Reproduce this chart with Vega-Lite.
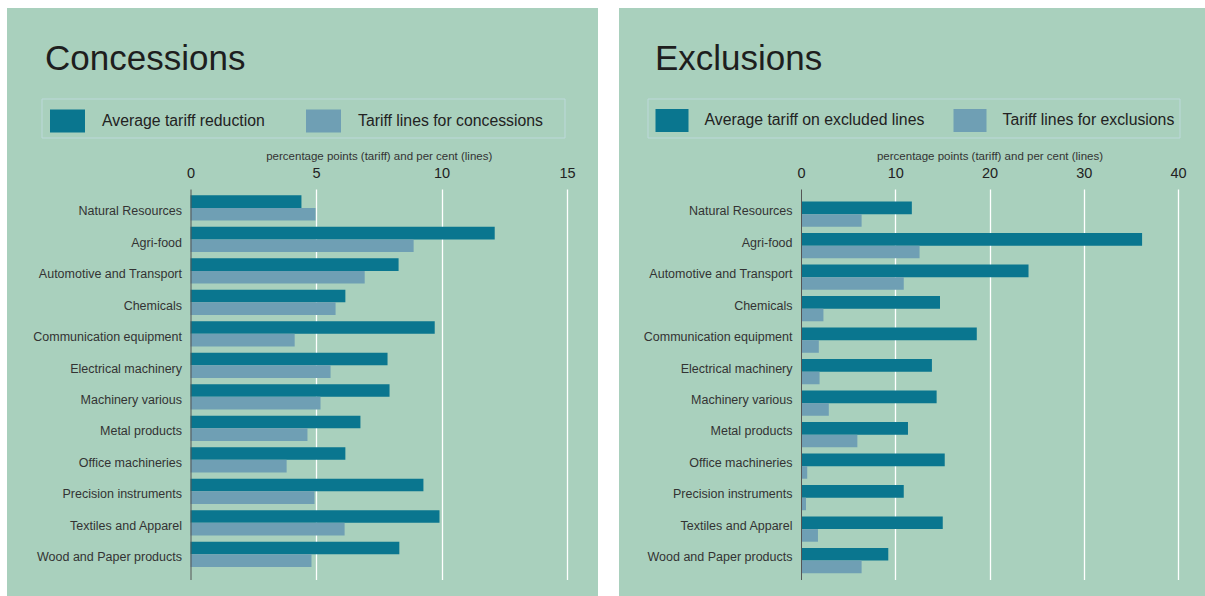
{
  "$schema": "https://vega.github.io/schema/vega-lite/v6.json",
  "background": "white",
  "padding": {"left": 7, "top": 8, "right": 0, "bottom": 0},
  "spacing": 21,
  "bounds": "flush",
  "config": {
    "font": "Liberation Sans",
    "view": {"fill": "#a9d0bd", "stroke": null},
    "axis": {"labelFont": "Liberation Sans", "titleFont": "Liberation Sans"},
    "legend": {"labelFont": "Liberation Sans", "titleFont": "Liberation Sans"}
  },
  "datasets": {
    "concessions": [
      {"sector": "Natural Resources", "series": "Average tariff reduction", "value": 4.42},
      {"sector": "Natural Resources", "series": "Tariff lines for concessions", "value": 4.98},
      {"sector": "Agri-food", "series": "Average tariff reduction", "value": 12.12},
      {"sector": "Agri-food", "series": "Tariff lines for concessions", "value": 8.89},
      {"sector": "Automotive and Transport", "series": "Average tariff reduction", "value": 8.29},
      {"sector": "Automotive and Transport", "series": "Tariff lines for concessions", "value": 6.94},
      {"sector": "Chemicals", "series": "Average tariff reduction", "value": 6.17},
      {"sector": "Chemicals", "series": "Tariff lines for concessions", "value": 5.78},
      {"sector": "Communication equipment", "series": "Average tariff reduction", "value": 9.73},
      {"sector": "Communication equipment", "series": "Tariff lines for concessions", "value": 4.15},
      {"sector": "Electrical machinery", "series": "Average tariff reduction", "value": 7.85},
      {"sector": "Electrical machinery", "series": "Tariff lines for concessions", "value": 5.58},
      {"sector": "Machinery various", "series": "Average tariff reduction", "value": 7.93},
      {"sector": "Machinery various", "series": "Tariff lines for concessions", "value": 5.18},
      {"sector": "Metal products", "series": "Average tariff reduction", "value": 6.77},
      {"sector": "Metal products", "series": "Tariff lines for concessions", "value": 4.66},
      {"sector": "Office machineries", "series": "Average tariff reduction", "value": 6.17},
      {"sector": "Office machineries", "series": "Tariff lines for concessions", "value": 3.83},
      {"sector": "Precision instruments", "series": "Average tariff reduction", "value": 9.28},
      {"sector": "Precision instruments", "series": "Tariff lines for concessions", "value": 4.94},
      {"sector": "Textiles and Apparel", "series": "Average tariff reduction", "value": 9.92},
      {"sector": "Textiles and Apparel", "series": "Tariff lines for concessions", "value": 6.14},
      {"sector": "Wood and Paper products", "series": "Average tariff reduction", "value": 8.32},
      {"sector": "Wood and Paper products", "series": "Tariff lines for concessions", "value": 4.82}
    ],
    "exclusions": [
      {"sector": "Natural Resources", "series": "Average tariff on excluded lines", "value": 11.76},
      {"sector": "Natural Resources", "series": "Tariff lines for exclusions", "value": 6.43},
      {"sector": "Agri-food", "series": "Average tariff on excluded lines", "value": 36.19},
      {"sector": "Agri-food", "series": "Tariff lines for exclusions", "value": 12.58},
      {"sector": "Automotive and Transport", "series": "Average tariff on excluded lines", "value": 24.14},
      {"sector": "Automotive and Transport", "series": "Tariff lines for exclusions", "value": 10.9},
      {"sector": "Chemicals", "series": "Average tariff on excluded lines", "value": 14.75},
      {"sector": "Chemicals", "series": "Tariff lines for exclusions", "value": 2.38},
      {"sector": "Communication equipment", "series": "Average tariff on excluded lines", "value": 18.65},
      {"sector": "Communication equipment", "series": "Tariff lines for exclusions", "value": 1.89},
      {"sector": "Electrical machinery", "series": "Average tariff on excluded lines", "value": 13.89},
      {"sector": "Electrical machinery", "series": "Tariff lines for exclusions", "value": 1.97},
      {"sector": "Machinery various", "series": "Average tariff on excluded lines", "value": 14.39},
      {"sector": "Machinery various", "series": "Tariff lines for exclusions", "value": 2.95},
      {"sector": "Metal products", "series": "Average tariff on excluded lines", "value": 11.35},
      {"sector": "Metal products", "series": "Tariff lines for exclusions", "value": 5.98},
      {"sector": "Office machineries", "series": "Average tariff on excluded lines", "value": 15.25},
      {"sector": "Office machineries", "series": "Tariff lines for exclusions", "value": 0.66},
      {"sector": "Precision instruments", "series": "Average tariff on excluded lines", "value": 10.9},
      {"sector": "Precision instruments", "series": "Tariff lines for exclusions", "value": 0.53},
      {"sector": "Textiles and Apparel", "series": "Average tariff on excluded lines", "value": 15.04},
      {"sector": "Textiles and Apparel", "series": "Tariff lines for exclusions", "value": 1.8},
      {"sector": "Wood and Paper products", "series": "Average tariff on excluded lines", "value": 9.26},
      {"sector": "Wood and Paper products", "series": "Tariff lines for exclusions", "value": 6.43}
    ]
  },
  "hconcat": [
    {
      "width": 591,
      "height": 588,
      "data": {"name": "concessions"},
      "title": {"text": "Concessions", "anchor": "start", "frame": "group", "orient": "top", "offset": 0, "fontSize": 35, "fontWeight": "normal", "color": "#1e1e1e", "baseline": "alphabetic", "dx": 38, "dy": 97},
      "mark": {"type": "bar", "size": 12.6},
      "encoding": {
        "x": {
          "field": "value", "type": "quantitative",
          "scale": {"domain": [0, 15], "range": [183.5, 560], "nice": false},
          "axis": {
            "orient": "top", "offset": -180, "values": [0, 5, 10, 15], "labelFlush": false,
            "title": "percentage points (tariff) and per cent (lines)",
            "titleFontSize": 11.5, "titleFontWeight": "normal", "titleColor": "#333333", "titlePadding": 4,
            "labelFontSize": 14.5, "labelColor": "#222222", "labelPadding": 8,
            "ticks": false, "tickSize": 0, "domain": false,
            "grid": true, "gridColor": {"condition": {"test": "datum.value === 0", "value": "transparent"}, "value": "#ffffff"}, "gridWidth": 1.3, "gridOpacity": 1
          }
        },
        "y": {
          "field": "sector", "type": "nominal", "sort": null,
          "scale": {"range": [181, 571.5], "paddingInner": 0.2, "paddingOuter": 0.3},
          "axis": {
            "orient": "left", "offset": -183.5, "title": null,
            "labelFontSize": 12.5, "labelColor": "#333333", "labelPadding": 9, "labelLimit": 300,
            "ticks": false, "domain": true, "domainColor": "#555555", "domainWidth": 1, "grid": false, "zindex": 1
          }
        },
        "yOffset": {"field": "series", "type": "nominal", "sort": ["Average tariff reduction", "Tariff lines for concessions"], "scale": {"range": [0, 25.2], "paddingInner": 0, "paddingOuter": 0}},
        "color": {
          "field": "series", "type": "nominal",
          "scale": {"domain": ["Average tariff reduction", "Tariff lines for concessions"], "range": ["#0a768f", "#6f9fb4"]},
          "legend": {
            "orient": "none", "legendX": 34.5, "legendY": 90.5, "direction": "horizontal",
            "title": "\u00a0", "titleOrient": "right", "titlePadding": 17, "titleFontSize": 15.8, "titleFontWeight": "normal",
            "symbolType": "M-1,-0.657H1V0.657H-1Z", "symbolSize": 1225, "symbolStrokeWidth": 0, "symbolOpacity": 1, "symbolOffset": 3.5,
            "labelFontSize": 15.8, "labelColor": "#222222", "labelOffset": 17, "labelLimit": 400,
            "columnPadding": 37, "padding": 5, "strokeColor": "#bcd9da", "cornerRadius": 0
          }
        }
      }
    },
    {
      "width": 586,
      "height": 588,
      "data": {"name": "exclusions"},
      "title": {"text": "Exclusions", "anchor": "start", "frame": "group", "orient": "top", "offset": 0, "fontSize": 35, "fontWeight": "normal", "color": "#1e1e1e", "baseline": "alphabetic", "dx": 36, "dy": 97},
      "mark": {"type": "bar", "size": 12.6},
      "encoding": {
        "x": {
          "field": "value", "type": "quantitative",
          "scale": {"domain": [0, 40], "range": [182, 559], "nice": false},
          "axis": {
            "orient": "top", "offset": -180, "values": [0, 10, 20, 30, 40], "labelFlush": false,
            "title": "percentage points (tariff) and per cent (lines)",
            "titleFontSize": 11.5, "titleFontWeight": "normal", "titleColor": "#333333", "titlePadding": 4,
            "labelFontSize": 14.5, "labelColor": "#222222", "labelPadding": 8,
            "ticks": false, "tickSize": 0, "domain": false,
            "grid": true, "gridColor": {"condition": {"test": "datum.value === 0", "value": "transparent"}, "value": "#ffffff"}, "gridWidth": 1.3, "gridOpacity": 1
          }
        },
        "y": {
          "field": "sector", "type": "nominal", "sort": null,
          "scale": {"range": [181, 571.5], "paddingInner": 0.2, "paddingOuter": 0.3},
          "axis": {
            "orient": "left", "offset": -182, "title": null,
            "labelFontSize": 12.5, "labelColor": "#333333", "labelPadding": 9, "labelLimit": 300,
            "ticks": false, "domain": true, "domainColor": "#555555", "domainWidth": 1, "grid": false, "zindex": 1
          }
        },
        "yOffset": {"field": "series", "type": "nominal", "sort": ["Average tariff on excluded lines", "Tariff lines for exclusions"], "scale": {"range": [0, 25.2], "paddingInner": 0, "paddingOuter": 0}},
        "color": {
          "field": "series", "type": "nominal",
          "scale": {"domain": ["Average tariff on excluded lines", "Tariff lines for exclusions"], "range": ["#0a768f", "#6f9fb4"]},
          "legend": {
            "orient": "none", "legendX": 28.5, "legendY": 90.5, "direction": "horizontal", "title": null,
            "symbolType": "M-1,-0.697H1V0.697H-1Z", "symbolSize": 1089, "symbolStrokeWidth": 0, "symbolOpacity": 1, "symbolOffset": 3,
            "labelFontSize": 15.8, "labelColor": "#222222", "labelOffset": 16, "labelLimit": 400,
            "columnPadding": 26, "padding": 5, "strokeColor": "#bcd9da", "cornerRadius": 0
          }
        }
      }
    }
  ],
  "resolve": {"scale": {"color": "independent", "x": "independent", "y": "independent"}, "legend": {"color": "independent"}}
}
